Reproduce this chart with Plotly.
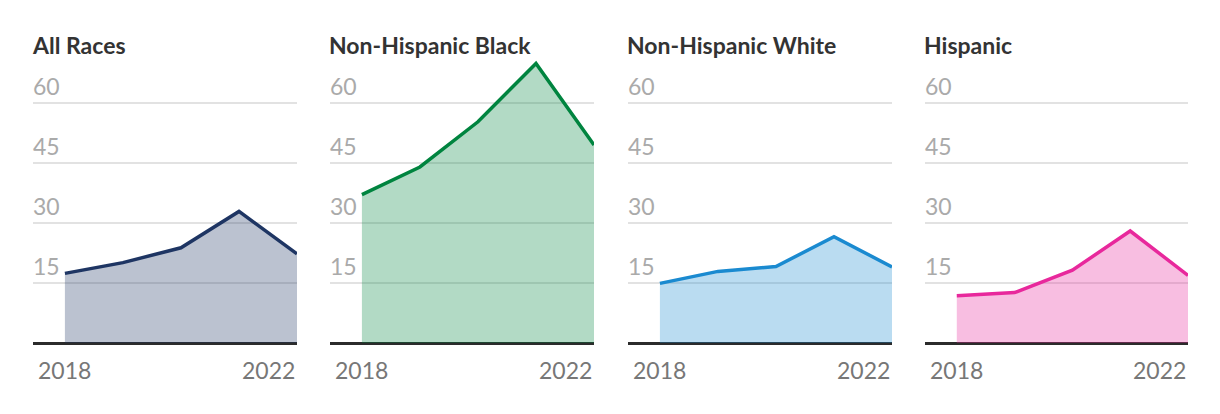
import plotly.graph_objects as go

years = [2018, 2019, 2020, 2021, 2022]
groups = ["All Races", "Non-Hispanic Black", "Non-Hispanic White", "Hispanic"]
all_races = [17.4, 20.1, 23.8, 32.9, 22.3]
nh_black = [37.1, 44.0, 55.3, 69.9, 49.5]
nh_white = [14.9, 17.9, 19.1, 26.6, 19.0]
hispanic = [11.8, 12.6, 18.2, 28.0, 16.9]
series = [all_races, nh_black, nh_white, hispanic]
y_ticks = [15, 30, 45, 60]
x_labels = ["2018", "2022"]

line_colors = ["#1e3563", "#00843f", "#1a8ad0", "#e8289c"]
fill_colors = ["rgba(30,53,99,0.3)", "rgba(0,132,63,0.3)",
               "rgba(26,138,208,0.3)", "rgba(232,40,156,0.3)"]

FONT = "Lato"
OFF = 8  # page body margin
W, H = 1220 - OFF, 414 - OFF
ML, MR, MT, MB = 33 - OFF, 32, 55 - OFF, 71
pw = W - ML - MR
panel_left_px = [33, 330, 628, 925]
panel_w = 264

fig = go.Figure()
annotations = []
layout_axes = {}
for i, (name, vals) in enumerate(zip(groups, series)):
    n = i + 1
    xa = "x" if n == 1 else f"x{n}"
    ya = "y" if n == 1 else f"y{n}"
    fig.add_trace(go.Scatter(
        x=years, y=vals, xaxis=xa, yaxis=ya, mode="lines",
        line=dict(color=line_colors[i], width=3.5),
        fill="tozeroy", fillcolor=fill_colors[i],
        hoverinfo="x+y", showlegend=False,
    ))
    d0 = (panel_left_px[i] - 33) / pw
    d1 = (panel_left_px[i] + panel_w - 33) / pw
    layout_axes[f"xaxis{'' if n == 1 else n}"] = dict(
        domain=[d0, min(d1, 1)], range=[2017.45, 2022.0],
        showgrid=False, zeroline=False, showticklabels=False,
        showline=False, fixedrange=True, anchor=ya,
    )
    layout_axes[f"yaxis{'' if n == 1 else n}"] = dict(
        domain=[0, 1], range=[0, 72], tickvals=y_ticks,
        showgrid=True, gridcolor="#e2e2e2", gridwidth=2,
        zeroline=True, zerolinecolor="#2b2b2b", zerolinewidth=2.5,
        showticklabels=False, showline=False, fixedrange=True, anchor=xa,
    )
    xdom = f"{xa} domain"
    ydom = f"{ya} domain"
    annotations.append(dict(
        text=f"<b>{name}</b>", xref=xdom, yref="paper", x=0, y=1,
        xshift=-3, yshift=10, xanchor="left", yanchor="middle", showarrow=False,
        font=dict(family=FONT, size=23, color="#333333"),
    ))
    for t in y_ticks:
        annotations.append(dict(
            text=str(t), xref=xdom, yref=ya, x=0, y=t, xanchor="left",
            xshift=-2, yanchor="middle", yshift=17, showarrow=False,
            font=dict(family=FONT, size=23, color="#aaaaaa"),
        ))
    annotations.append(dict(
        text=x_labels[0], xref=xa, yref=ydom, x=years[0], y=0,
        xanchor="center", yanchor="middle", yshift=-27, showarrow=False,
        font=dict(family=FONT, size=23, color="#777777"),
    ))
    annotations.append(dict(
        text=x_labels[1], xref=xa, yref=ydom, x=years[-1], y=0,
        xanchor="right", yanchor="middle", yshift=-27, showarrow=False,
        font=dict(family=FONT, size=23, color="#777777"),
    ))

fig.update_layout(
    width=W, height=H,
    margin=dict(l=ML, r=MR, t=MT, b=MB),
    paper_bgcolor="white", plot_bgcolor="white",
    annotations=annotations,
    **layout_axes,
)

fig.write_html("out.html")
